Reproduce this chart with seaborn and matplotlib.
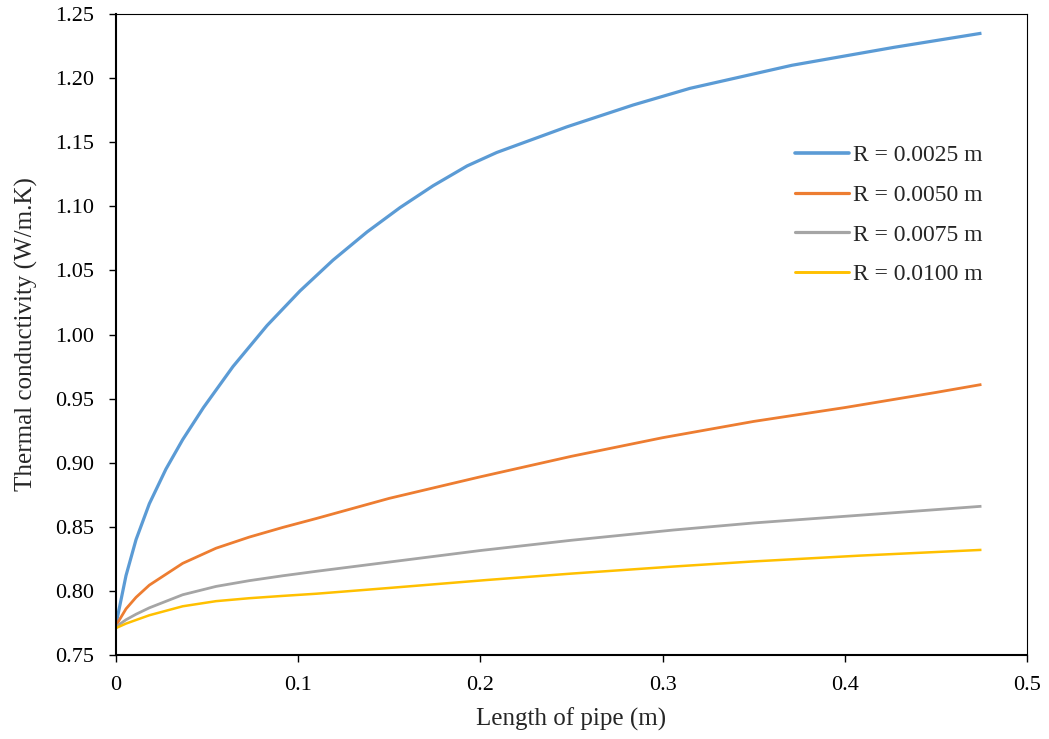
import numpy as np
import pandas as pd
import matplotlib
matplotlib.use("Agg")
import matplotlib.pyplot as plt
import seaborn as sns

series_names = ["R = 0.0025 m", "R = 0.0050 m", "R = 0.0075 m", "R = 0.0100 m"]
colors = ["#5B9BD5", "#ED7D31", "#A5A5A5", "#FFC000"]
widths = [2.3, 2.0, 2.0, 1.8]

x_blue = [0, 0.0055, 0.011, 0.0183, 0.0274, 0.0366, 0.048, 0.0642, 0.0829, 0.101, 0.1191,
          0.1378, 0.1559, 0.174, 0.1927, 0.209, 0.2475, 0.2838, 0.315, 0.371, 0.427, 0.475]
y_blue = [0.774, 0.812, 0.840, 0.868, 0.895, 0.918, 0.943, 0.975, 1.007, 1.034, 1.058,
          1.080, 1.099, 1.116, 1.1315, 1.142, 1.162, 1.179, 1.192, 1.210, 1.224, 1.235]

x_orange = [0, 0.0055, 0.011, 0.0183, 0.0366, 0.0549, 0.0732, 0.0915, 0.11, 0.15, 0.2, 0.25,
            0.3, 0.35, 0.4, 0.45, 0.475]
y_orange = [0.773, 0.786, 0.795, 0.8045, 0.8215, 0.8333, 0.842, 0.8495, 0.8565, 0.8722, 0.889,
            0.905, 0.9195, 0.9322, 0.943, 0.9548, 0.961]

x_grey = [0, 0.0055, 0.011, 0.0183, 0.0366, 0.0549, 0.0732, 0.0915, 0.11, 0.15, 0.2, 0.25,
          0.306, 0.35, 0.408, 0.475]
y_grey = [0.772, 0.7775, 0.7818, 0.7868, 0.797, 0.8035, 0.808, 0.8118, 0.8153, 0.8225, 0.8315,
          0.8395, 0.8475, 0.853, 0.859, 0.866]

x_yellow = [0, 0.0055, 0.011, 0.0183, 0.0366, 0.0549, 0.0732, 0.0915, 0.11, 0.15, 0.2035,
            0.25, 0.306, 0.35, 0.408, 0.475]
y_yellow = [0.771, 0.7745, 0.7773, 0.781, 0.788, 0.792, 0.7943, 0.7961, 0.7978, 0.8023, 0.8085,
            0.8135, 0.819, 0.823, 0.8275, 0.832]

x_ticks = [0, 0.1, 0.2, 0.3, 0.4, 0.5]
x_ticklabels = ["0", "0.1", "0.2", "0.3", "0.4", "0.5"]
y_ticks = [0.75, 0.80, 0.85, 0.90, 0.95, 1.00, 1.05, 1.10, 1.15, 1.20, 1.25]
y_ticklabels = ["%.2f" % v for v in y_ticks]

frames = []
for name, xs, ys in zip(series_names,
                        [x_blue, x_orange, x_grey, x_yellow],
                        [y_blue, y_orange, y_grey, y_yellow]):
    frames.append(pd.DataFrame({"x": xs, "y": ys, "series": name}))
df = pd.concat(frames, ignore_index=True)

sns.set_style("white")
plt.rcParams["font.family"] = ["Liberation Serif", "DejaVu Serif"]

fig = plt.figure(figsize=(10.49, 7.39), dpi=100)
ax = fig.add_axes([116 / 1049, 1 - 655 / 739, (1027 - 116) / 1049, (655 - 14) / 739])

sns.lineplot(data=df, x="x", y="y", hue="series", hue_order=series_names,
             palette=dict(zip(series_names, colors)), ax=ax, sort=True,
             estimator=None, legend=True)
for line, w in zip(ax.get_lines(), widths):
    line.set_linewidth(w)
    line.set_solid_capstyle("butt")
    line.set_solid_joinstyle("round")

ax.set_xlim(0, 0.5)
ax.set_ylim(0.75, 1.25)
ax.set_xticks(x_ticks)
ax.set_xticklabels(x_ticklabels, fontsize=16)
ax.set_yticks(y_ticks)
ax.set_yticklabels(y_ticklabels, fontsize=16)
ax.tick_params(axis="both", direction="out", length=5, width=1, color="black",
               labelcolor="black", bottom=True, left=True)
ax.tick_params(axis="x", pad=10)
ax.tick_params(axis="y", pad=11)

for side in ["left", "bottom"]:
    ax.spines[side].set_linewidth(1.5)
    ax.spines[side].set_color("black")
for side in ["top", "right"]:
    ax.spines[side].set_linewidth(0.8)
    ax.spines[side].set_color("black")
    ax.spines[side].set_visible(True)

ax.set_xlabel("Length of pipe (m)", fontsize=18, labelpad=9)
ax.set_ylabel("Thermal conductivity (W/m.K)", fontsize=18, labelpad=12)

handles, labels = ax.get_legend_handles_labels()
for h, w in zip(handles, widths):
    h.set_linewidth(w + 0.3)
leg = ax.legend(handles, labels, loc="upper left", bbox_to_anchor=(0.745, 0.796),
                frameon=False, fontsize=17, handlelength=2.3, handletextpad=0.15,
                labelspacing=0.77, borderpad=0, borderaxespad=0)

fig.savefig("out.png", dpi=100)
